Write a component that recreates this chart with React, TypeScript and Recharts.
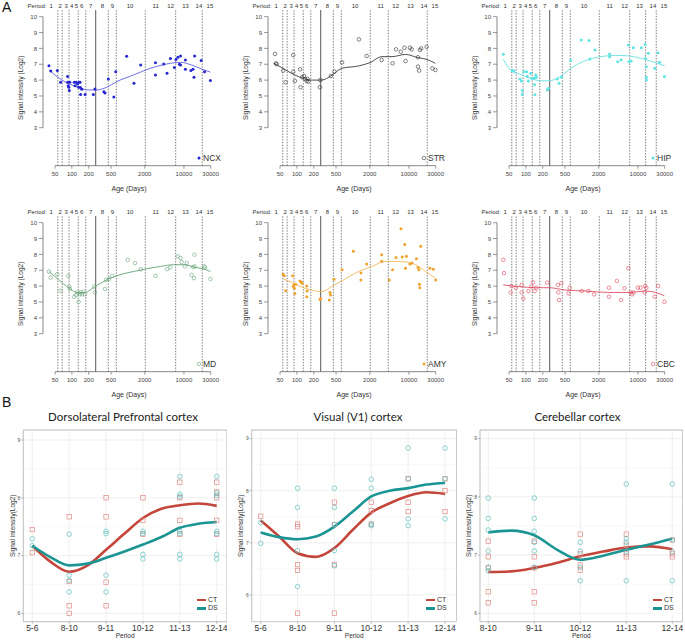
import React from 'react'
import {
  ComposedChart, Scatter, Line, XAxis, YAxis, ReferenceLine, ReferenceArea, CartesianGrid,
} from 'recharts'

const FONT = '"Liberation Sans", Arial, sans-serif'
const TITLE_FONT = 'Lato, "Open Sans", sans-serif'

// ---- panel A: age axis, periods ----
const AGE_TICKS = [50, 100, 200, 500, 2000, 10000, 30000]
const SIGNAL_TICKS = [3, 4, 5, 6, 7, 8, 9, 10]
const PERIOD_LABELS = ['1', '2', '3', '4', '5', '6', '7', '8', '9', '10', '11', '12', '13', '14', '15']
const PERIOD_MID = [42.5, 62, 79, 99, 120, 150, 217, 349, 527, 1089, 3130, 5800, 10700, 18500, 29100]
const BIRTH_DAY = 266
const BOUNDS_COL1 = [56, 67, 89, 130, 177, 447, 621, 2042, 7110, 21200]
const BOUNDS_COL2 = [56, 67, 89, 130, 177, 447, 621, 2042, 4280, 21200]
const BOUNDS_COL3 = [56, 67, 89, 130, 177, 447, 621, 2042, 7110, 13700, 21200]

// [age in days, signal]
const NCX_PTS = [
  [39, 6.91], [42, 6.58], [55, 6.6], [63, 5.86], [84, 6.22], [84, 5.86], [86, 5.65], [88, 5.55], [90, 5.34],
  [92, 5.86], [110, 5.86], [114, 5.65], [119, 5.86], [126, 5.76], [132, 5.55], [134, 5.86], [140, 5.86],
  [142, 5.53], [150, 5.42], [143, 5.1], [172, 5.1], [241, 5.1], [258, 5.44], [372, 5.27], [390, 5.19],
  [447, 6.07], [561, 4.94], [605, 6.53], [950, 7.5], [1280, 5.8], [1690, 6.95], [3100, 7.1], [3100, 6.32],
  [4350, 7.02], [4990, 6.43], [5740, 7.37], [6750, 6.8], [7200, 7.3], [7800, 7.44], [8300, 7.0], [8690, 7.52],
  [8690, 6.95], [10600, 6.68], [10600, 7.27], [13300, 6.6], [14500, 6.68], [15100, 6.18], [15500, 7.52],
  [20300, 7.23], [23300, 6.53], [29600, 5.97],
]
const NCX_FIT = [
  [39, 6.64], [50, 6.32], [80, 5.84], [130, 5.55], [197, 5.38], [276, 5.38], [418, 5.55], [628, 5.9],
  [1250, 6.32], [2500, 6.74], [5000, 7.02], [8700, 7.12], [13700, 6.95], [20700, 6.7], [29600, 6.5],
]
const STR_PTS = [
  [40.7, 7.65], [42, 7.06], [43.6, 7.0], [57, 6.6], [63, 5.86], [86, 7.58], [86, 6.53], [92, 5.95],
  [114, 6.68], [116, 5.55], [124, 6.18], [134, 6.26], [140, 6.07], [150, 5.95], [155, 6.07], [160, 5.9],
  [258, 5.55], [262, 6.0], [405, 6.26], [468, 6.53], [640, 7.12], [1280, 8.57], [1760, 7.52], [3260, 7.27],
  [5100, 7.06], [5890, 7.94], [7150, 7.79], [8300, 8.04], [8690, 7.2], [10420, 8.04], [11200, 7.94],
  [14500, 7.44], [14500, 6.85], [15200, 6.6], [15700, 7.9], [16500, 8.0], [20660, 8.1], [26200, 6.74],
  [29600, 6.64],
]
const STR_FIT = [
  [39, 7.06], [50, 6.85], [80, 6.43], [130, 6.11], [184, 6.0], [276, 6.0], [418, 6.3], [628, 6.74],
  [1250, 6.89], [2015, 7.1], [3300, 7.48], [4990, 7.48], [8690, 7.62], [13700, 7.44], [22000, 7.27],
  [29600, 7.06],
]
const HIP_PTS = [
  [39.5, 7.63], [57, 6.6], [61, 6.58], [78, 6.07], [83, 5.95], [86, 5.34], [86, 5.1], [92, 6.53], [103, 6.53],
  [106, 6.22], [111, 5.95], [122, 6.43], [127, 6.11], [140, 6.11], [143, 5.7], [145, 5.07], [150, 6.32],
  [154, 6.18], [241, 5.38], [253, 5.49], [364, 6.07], [390, 5.8], [435, 6.18], [628, 7.23], [975, 8.53],
  [1336, 8.49], [1390, 7.33], [1705, 7.9], [3120, 7.65], [3120, 7.48], [4350, 7.16], [4990, 7.27],
  [6750, 8.21], [6910, 7.16], [7570, 7.2], [8270, 8.04], [11460, 8.04], [13430, 8.25], [13700, 7.37],
  [14100, 6.85], [14100, 6.18], [14100, 6.0], [15300, 7.69], [19900, 6.74], [22700, 7.73], [24300, 7.12],
  [29600, 6.22],
]
const HIP_FIT = [
  [39.5, 7.31], [53.5, 6.64], [86, 6.32], [150, 6.0], [211, 5.95], [276, 5.97], [447, 6.32], [628, 6.74],
  [1250, 7.27], [2180, 7.48], [4000, 7.56], [6900, 7.52], [13160, 7.31], [20660, 7.1], [30000, 6.89],
]
const MD_PTS = [
  [39, 6.92], [42, 6.54], [55, 6.75], [63, 5.71], [86, 6.65], [90, 5.97], [92, 5.82], [110, 5.33], [119, 5.44],
  [126, 5.6], [132, 5.01], [140, 5.48], [142, 5.6], [152, 5.48], [160, 5.65], [172, 5.48], [258, 5.6],
  [250, 5.97], [390, 5.82], [405, 6.39], [460, 6.45], [525, 6.65], [995, 7.66], [1336, 7.45], [1700, 7.07],
  [3100, 6.65], [4990, 7.07], [5700, 7.18], [7750, 7.88], [8690, 7.77], [9090, 7.52], [10400, 7.24],
  [11200, 7.45], [13700, 6.71], [15100, 6.5], [15400, 7.98], [15600, 7.24], [14500, 7.2], [22900, 7.24],
  [23700, 7.18], [29600, 6.45],
]
const MD_FIT = [
  [39, 6.92], [50, 6.6], [80, 6.0], [130, 5.58], [172, 5.6], [258, 5.97], [418, 6.39], [628, 6.65],
  [1250, 6.92], [2015, 7.07], [3790, 7.24], [6590, 7.35], [9980, 7.35], [15100, 7.2], [22900, 7.07],
  [29600, 6.92],
]
const AMY_PTS = [
  [57, 6.75], [59.5, 6.65], [63, 5.71], [84, 6.65], [86, 5.97], [88, 6.07], [90, 5.86], [92, 5.54], [95, 6.11],
  [114, 6.33], [119, 6.24], [124, 6.18], [150, 6.0], [152, 5.69], [150, 5.33], [258, 5.16], [265, 5.22],
  [380, 5.12], [390, 5.6], [398, 5.44], [460, 6.43], [640, 7.03], [1016, 8.2], [1390, 6.82], [1390, 6.39],
  [1757, 7.39], [3260, 7.98], [3260, 7.56], [4450, 6.39], [5100, 7.03], [5890, 7.81], [7200, 9.62],
  [7570, 7.83], [8400, 8.62], [8690, 7.13], [9000, 7.88], [10400, 7.39], [11300, 7.45], [13600, 7.73],
  [14500, 7.18], [15100, 7.03], [15400, 6.11], [15600, 5.9], [16200, 8.51], [23700, 7.13], [27200, 7.07],
  [30000, 6.39],
]
const AMY_FIT = [
  [57, 6.45], [80, 6.24], [130, 5.9], [184, 5.75], [276, 5.65], [418, 5.97], [674, 6.39], [1250, 6.92],
  [2180, 7.24], [3790, 7.56], [4990, 7.56], [8690, 7.52], [13160, 7.35], [19900, 6.92], [29600, 6.5],
]
const CBC_PTS = [
  [39.5, 7.66], [40.7, 6.82], [53.5, 5.6], [55, 6.0], [66, 5.9], [84, 6.07], [84, 5.6], [90, 5.22], [111, 5.69],
  [125, 5.97], [134, 6.24], [143, 5.69], [154, 5.9], [241, 6.22], [372, 6.07], [380, 5.6], [390, 5.12],
  [430, 6.18], [575, 5.54], [605, 5.9], [990, 5.69], [1300, 5.69], [1650, 5.48], [3040, 5.9], [3040, 5.33],
  [4200, 6.33], [4990, 5.12], [5740, 5.86], [6750, 7.13], [7400, 5.6], [7800, 5.48], [8300, 5.6],
  [9980, 5.9], [11100, 5.9], [13160, 5.6], [13400, 6.0], [14100, 5.9], [19900, 5.33], [22880, 6.0],
  [29600, 5.01],
]
const CBC_FIT = [
  [39.5, 6.07], [75, 5.97], [150, 5.9], [258, 5.9], [512, 5.75], [1165, 5.69], [3040, 5.6], [6900, 5.6],
  [13700, 5.69], [20660, 5.6], [29600, 5.39],
]

// ---- panel B: period windows ----
const CATS_6 = ['5-6', '8-10', '9-11', '10-12', '11-13', '12-14']
const CATS_5 = ['8-10', '9-11', '10-12', '11-13', '12-14']

// [window index, signal]
const DLPFC_CT = [
  [1, 7.45], [1, 7.05], [2, 7.67], [2, 6.55], [2, 6.13], [2, 6.0], [3, 8.0], [3, 7.67], [3, 6.54], [3, 6.13],
  [4, 8.0], [4, 7.61], [4, 7.37], [5, 8.27], [5, 8.0], [5, 7.61], [5, 7.37], [6, 8.27], [6, 8.1], [6, 8.0],
  [6, 7.61], [6, 7.37],
]
const DLPFC_DS = [
  [1, 7.29], [1, 7.17], [2, 7.37], [2, 6.66], [2, 6.57], [2, 6.37], [3, 7.42], [3, 7.38], [3, 6.66], [3, 6.37],
  [4, 7.42], [4, 7.38], [4, 7.02], [4, 6.94], [5, 8.37], [5, 8.06], [5, 8.02], [5, 7.42], [5, 7.38], [5, 7.02],
  [5, 6.94], [6, 8.37], [6, 8.08], [6, 8.04], [6, 7.42], [6, 7.38], [6, 7.02], [6, 6.94],
]
const DLPFC_CT_FIT = [
  [1, 7.17], [1.5, 6.89], [2, 6.72], [2.5, 6.83], [3, 7.1], [3.5, 7.38], [4, 7.65], [4.5, 7.81], [5, 7.87],
  [5.5, 7.9], [6, 7.86],
]
const DLPFC_DS_FIT = [
  [1, 7.17], [1.5, 6.97], [2, 6.83], [2.5, 6.86], [3, 6.96], [3.5, 7.07], [4, 7.19], [4.5, 7.32], [5, 7.48],
  [5.5, 7.55], [6, 7.58],
]
const V1_CT = [
  [1, 7.51], [2, 7.36], [2, 7.31], [2, 6.58], [2, 6.47], [2, 5.65], [3, 7.78], [3, 7.35], [3, 6.58], [3, 5.65],
  [4, 7.78], [4, 7.62], [4, 7.36], [5, 8.23], [5, 7.78], [5, 7.6], [6, 8.23], [6, 8.0], [6, 7.6],
]
const V1_DS = [
  [1, 7.39], [1, 6.99], [2, 8.05], [2, 7.68], [2, 6.85], [2, 6.16], [3, 8.05], [3, 7.68], [3, 7.35], [3, 6.85],
  [3, 6.56], [4, 8.22], [4, 8.05], [4, 7.36], [4, 7.33], [5, 8.82], [5, 8.23], [5, 7.46], [5, 7.33],
  [6, 8.82], [6, 8.23], [6, 7.46],
]
const V1_CT_FIT = [
  [1, 7.43], [1.5, 7.12], [2, 6.8], [2.5, 6.73], [3, 6.9], [3.5, 7.25], [4, 7.58], [4.5, 7.76], [5, 7.9],
  [5.5, 7.97], [6, 7.94],
]
const V1_DS_FIT = [
  [1, 7.2], [1.5, 7.11], [2, 7.07], [2.5, 7.12], [3, 7.31], [3.5, 7.6], [4, 7.89], [4.5, 8.0], [5, 8.05],
  [5.5, 8.12], [6, 8.15],
]
const CBC_CT = [
  [1, 7.24], [1, 6.97], [1, 6.78], [1, 6.37], [1, 6.18], [2, 7.24], [2, 6.97], [2, 6.78], [2, 6.37], [2, 6.18],
  [3, 7.36], [3, 7.02], [3, 6.83], [3, 6.74], [4, 7.36], [4, 7.17], [4, 7.02], [4, 6.97], [5, 7.26], [5, 7.02],
  [5, 6.97],
]
const CBC_DS = [
  [1, 7.98], [1, 7.63], [1, 7.43], [1, 7.07], [1, 6.79], [1, 6.73], [2, 7.98], [2, 7.63], [2, 7.41], [2, 7.22],
  [2, 7.07], [2, 6.79], [3, 7.22], [3, 7.07], [3, 6.79], [3, 6.56], [4, 8.22], [4, 7.28], [4, 7.22], [4, 7.06],
  [4, 6.56], [5, 8.22], [5, 7.26], [5, 7.06], [5, 6.56],
]
const CBC_CT_FIT = [
  [1, 6.71], [1.5, 6.72], [2, 6.78], [2.5, 6.87], [3, 6.98], [3.5, 7.06], [4, 7.13], [4.5, 7.15], [5, 7.1],
]
const CBC_DS_FIT = [
  [1, 7.39], [1.5, 7.42], [2, 7.34], [2.5, 7.09], [3, 6.92], [3.5, 6.99], [4, 7.09], [4.5, 7.18], [5, 7.28],
]

const CT_COLOR = '#c4463b'
const DS_COLOR = '#1a9593'
const CT_PT = '#e08a84'
const DS_PT = '#5cbdbb'

const toPts = (pairs: number[][]) => pairs.map(([d, v]) => ({ d, v }))

const AGE_DOMAIN = [30.5, 35800]
const SIG_DOMAIN = [0.604, 10.42]

function PeriodTick(props: any) {
  const { x, y, index } = props
  return (
    <g fontFamily={FONT} fontSize={6} fill="#333">
      {index === 0 && (
        <text x={x - 4.5} y={y} textAnchor="end">Period:</text>
      )}
      <text x={x} y={y} textAnchor="middle">{PERIOD_LABELS[index]}</text>
    </g>
  )
}

type TopProps = {
  left: number; top: number; name: string; color: string; lineColor: string
  filled: boolean; pts: number[][]; fit: number[][]; bounds: number[]
}

function AgePanel({ left, top, name, color, lineColor, filled, pts, fit, bounds }: TopProps) {
  const dot = (p: any) =>
    filled
      ? <circle cx={p.cx} cy={p.cy} r={1.5} fill={color} />
      : <circle cx={p.cx} cy={p.cy} r={1.8} fill="none" stroke={color} strokeWidth={0.6} />
  return (
    <div style={{ position: 'absolute', left, top, width: 228, height: 195 }}>
      <ComposedChart width={228} height={195} margin={{ top: 0, right: 13, bottom: 0, left: 0 }}>
        <XAxis
          xAxisId="p" orientation="top" type="number" scale="log" dataKey="d"
          domain={AGE_DOMAIN} allowDataOverflow ticks={PERIOD_MID} interval={0}
          tick={<PeriodTick />} tickLine={false} axisLine={false} height={10} tickSize={0} tickMargin={2.5}
        />
        <XAxis
          type="number" scale="log" dataKey="d" domain={AGE_DOMAIN} allowDataOverflow
          ticks={AGE_TICKS} interval={0} height={29.3} axisLine={false}
          tickLine={{ stroke: '#555', strokeWidth: 0.6 }} tickSize={3} tickMargin={3}
          tick={{ fontSize: 6, fill: '#444', fontFamily: FONT }}
          label={{ value: 'Age (Days)', position: 'insideBottom', offset: 4, fontSize: 7, fill: '#333', fontFamily: FONT }}
        />
        <YAxis
          type="number" dataKey="v" domain={SIG_DOMAIN} allowDataOverflow ticks={SIGNAL_TICKS} interval={0}
          width={43} axisLine={false} tickLine={{ stroke: '#555', strokeWidth: 0.6 }} tickSize={4} tickMargin={2}
          tick={{ fontSize: 6, fill: '#444', fontFamily: FONT }}
          label={{ value: 'Signal intensity (Log2)', angle: -90, position: 'center', dx: -1, fontSize: 6.5, fill: '#333', fontFamily: FONT }}
        />
        {bounds.map((b) => (
          <ReferenceLine key={b} x={b} stroke="#444" strokeWidth={0.7} strokeDasharray="1.4 1.4" />
        ))}
        <ReferenceLine x={BIRTH_DAY} stroke="#444" strokeWidth={0.9} />
        <ReferenceLine
          segment={[{ x: AGE_DOMAIN[0], y: 3 }, { x: AGE_DOMAIN[0], y: 10 }]}
          stroke="#555" strokeWidth={0.7} ifOverflow="visible"
        />
        <ReferenceLine
          segment={[{ x: 50, y: SIG_DOMAIN[0] }, { x: 30000, y: SIG_DOMAIN[0] }]}
          stroke="#555" strokeWidth={0.7} ifOverflow="visible"
        />
        <Scatter data={toPts(pts)} dataKey="v" shape={dot} isAnimationActive={false} />
        <Line
          data={toPts(fit)} dataKey="v" type="monotone" dot={false} stroke={lineColor}
          strokeWidth={0.8} isAnimationActive={false}
        />
      </ComposedChart>
      <div
        style={{
          position: 'absolute', left: 196, top: 153, display: 'flex', alignItems: 'center',
          fontFamily: FONT, fontSize: 8.5, color: '#333', lineHeight: '10px',
        }}
      >
        <svg width={6} height={6} style={{ marginRight: 1 }}>
          {filled
            ? <circle cx={3} cy={3} r={1.5} fill={color} />
            : <circle cx={3} cy={3} r={1.8} fill="none" stroke={color} strokeWidth={0.6} />}
        </svg>
        <span>{name}</span>
      </div>
    </div>
  )
}

type BottomProps = {
  left: number; width: number; yWidth: number; cats: string[]
  xDomain: number[]; yDomain: number[]; title: string; titleX: number
  ct: number[][]; ds: number[][]; ctFit: number[][]; dsFit: number[][]; legendX: number
}

const square = (p: any) => (
  <rect x={p.cx - 2.2} y={p.cy - 2.2} width={4.4} height={4.4} fill="none" stroke={CT_PT} strokeWidth={0.7} />
)
const ring = (p: any) => (
  <circle cx={p.cx} cy={p.cy} r={2.3} fill="none" stroke={DS_PT} strokeWidth={0.7} />
)

function WindowPanel({ left, width, yWidth, cats, xDomain, yDomain, title, titleX, ct, ds, ctFit, dsFit, legendX }: BottomProps) {
  const xTicks = cats.map((_, i) => i + 1)
  const minor = [5.5, 6.5, 7.5, 8.5].filter((m) => m > yDomain[0] && m < yDomain[1])
  return (
    <div style={{ position: 'absolute', left, top: 405, width, height: 235 }}>
      <div
        style={{
          position: 'absolute', left: titleX - 100, width: 200, top: 5, textAlign: 'center',
          fontFamily: TITLE_FONT, fontSize: 11.5, color: '#222',
        }}
      >
        {title}
      </div>
      <ComposedChart width={width} height={235} margin={{ top: 25, right: 0, bottom: 0, left: 0 }}>
        <CartesianGrid stroke="#ebebeb" strokeWidth={0.8} />
        {minor.map((m) => (
          <ReferenceLine key={m} y={m} stroke="#f4f4f4" strokeWidth={0.6} />
        ))}
        <ReferenceArea
          x1={xDomain[0]} x2={xDomain[1]} y1={yDomain[0]} y2={yDomain[1]}
          fill="none" stroke="#b5b5b5" strokeWidth={0.8} ifOverflow="visible"
        />
        <XAxis
          type="number" dataKey="d" domain={xDomain} allowDataOverflow ticks={xTicks} interval={0}
          tickFormatter={(t: number) => cats[t - 1]} height={18.3} axisLine={false}
          tickLine={{ stroke: '#888', strokeWidth: 0.6 }} tickSize={2} tickMargin={1}
          tick={{ fontSize: 8.5, fill: '#333', fontFamily: FONT }}
          label={{ value: 'Period', position: 'insideBottom', offset: 2, fontSize: 6.5, fill: '#333', fontFamily: FONT }}
        />
        <YAxis
          type="number" dataKey="v" domain={yDomain} allowDataOverflow ticks={[6, 7, 8, 9]} interval={0}
          width={yWidth} axisLine={false} tickLine={{ stroke: '#888', strokeWidth: 0.6 }} tickSize={2} tickMargin={1}
          tick={{ fontSize: 5, fill: '#555', fontFamily: FONT }}
          label={{ value: 'Signal intensity(Log2)', angle: -90, position: 'center', dx: 1, fontSize: 6.5, fill: '#333', fontFamily: FONT }}
        />
        <Scatter data={toPts(ct)} dataKey="v" shape={square} isAnimationActive={false} />
        <Scatter data={toPts(ds)} dataKey="v" shape={ring} isAnimationActive={false} />
        <Line data={toPts(ctFit)} dataKey="v" type="monotone" dot={false} stroke={CT_COLOR} strokeWidth={2.6} isAnimationActive={false} />
        <Line data={toPts(dsFit)} dataKey="v" type="monotone" dot={false} stroke={DS_COLOR} strokeWidth={2.6} isAnimationActive={false} />
      </ComposedChart>
      <div
        style={{
          position: 'absolute', left: legendX, top: 190, background: '#fff', padding: '1px 2px',
          fontFamily: FONT, fontSize: 7, color: '#333', lineHeight: '8.3px',
        }}
      >
        {[['CT', CT_COLOR], ['DS', DS_COLOR]].map(([n, c]) => (
          <div key={n} style={{ display: 'flex', alignItems: 'center' }}>
            <span style={{ display: 'inline-block', width: 9, height: 2.6, background: c, marginRight: 2 }} />
            {n}
          </div>
        ))}
      </div>
    </div>
  )
}

export default function App() {
  return (
    <div style={{ position: 'absolute', left: 0, top: 0, width: 685, height: 640, background: '#fff', overflow: 'hidden' }}>
      <div style={{ position: 'absolute', left: 2, top: 0, fontFamily: FONT, fontSize: 14, lineHeight: '15px', color: '#111' }}>A</div>
      <div style={{ position: 'absolute', left: 2, top: 395, fontFamily: FONT, fontSize: 14, lineHeight: '15px', color: '#111' }}>B</div>

      <AgePanel left={0} top={0} name="NCX" color="#2626d2" lineColor="#4b4be0" filled pts={NCX_PTS} fit={NCX_FIT} bounds={BOUNDS_COL1} />
      <AgePanel left={225} top={0} name="STR" color="#333" lineColor="#222" filled={false} pts={STR_PTS} fit={STR_FIT} bounds={BOUNDS_COL2} />
      <AgePanel left={454} top={0} name="HIP" color="#5fe3e3" lineColor="#55dcdc" filled pts={HIP_PTS} fit={HIP_FIT} bounds={BOUNDS_COL3} />
      <AgePanel left={0} top={206} name="MD" color="#6aa57a" lineColor="#4f9763" filled={false} pts={MD_PTS} fit={MD_FIT} bounds={BOUNDS_COL1} />
      <AgePanel left={225} top={206} name="AMY" color="#f0a22e" lineColor="#f2ad45" filled pts={AMY_PTS} fit={AMY_FIT} bounds={BOUNDS_COL2} />
      <AgePanel left={454} top={206} name="CBC" color="#e2445a" lineColor="#dc3a50" filled={false} pts={CBC_PTS} fit={CBC_FIT} bounds={BOUNDS_COL3} />

      <WindowPanel
        left={0} width={227} yWidth={23.3} cats={CATS_6} xDomain={[0.756, 6.279]} yDomain={[5.855, 9.173]}
        title="Dorsolateral Prefrontal cortex" titleX={123}
        ct={DLPFC_CT} ds={DLPFC_DS} ctFit={DLPFC_CT_FIT} dsFit={DLPFC_DS_FIT} legendX={195}
      />
      <WindowPanel
        left={228} width={228.7} yWidth={23.7} cats={CATS_6} xDomain={[0.756, 6.317]} yDomain={[5.486, 9.166]}
        title="Visual (V1) cortex" titleX={130}
        ct={V1_CT} ds={V1_DS} ctFit={V1_CT_FIT} dsFit={V1_DS_FIT} legendX={196}
      />
      <WindowPanel
        left={456} width={226.7} yWidth={24} cats={CATS_5} xDomain={[0.82, 5.226]} yDomain={[5.856, 9.148]}
        title="Cerebellar cortex" titleX={121.5}
        ct={CBC_CT} ds={CBC_DS} ctFit={CBC_CT_FIT} dsFit={CBC_DS_FIT} legendX={195}
      />
    </div>
  )
}
